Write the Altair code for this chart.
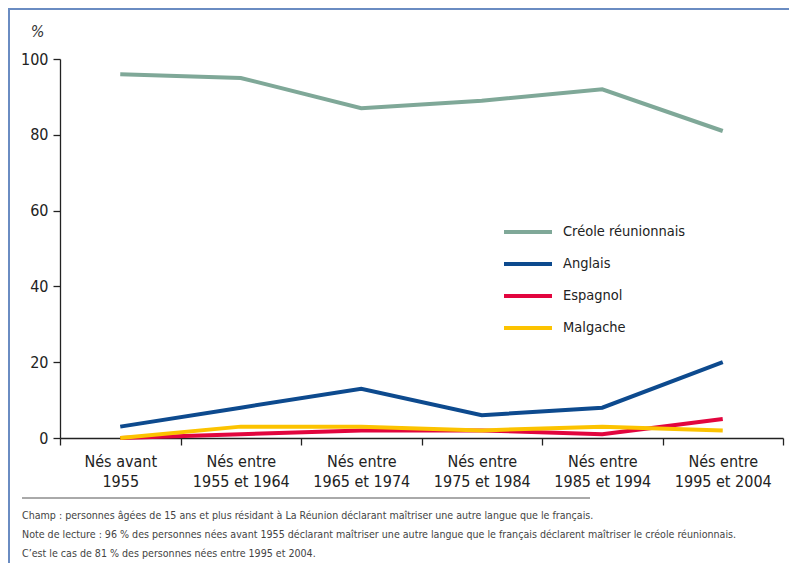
import altair as alt
import pandas as pd

categories = ["Nés avant|1955", "Nés entre|1955 et 1964", "Nés entre|1965 et 1974",
              "Nés entre|1975 et 1984", "Nés entre|1985 et 1994", "Nés entre|1995 et 2004"]
series = ["Créole réunionnais", "Anglais", "Espagnol", "Malgache"]
creole = [96, 95, 87, 89, 92, 81]
anglais = [3, 8, 13, 6, 8, 20]
espagnol = [0, 1, 2, 2, 1, 5]
malgache = [0, 3, 3, 2, 3, 2]
colors = ["#7fa898", "#0d4a8e", "#e2053e", "#fcc300"]
y_ticks = [0, 20, 40, 60, 80, 100]
notes = [
    "Champ : personnes âgées de 15 ans et plus résidant à La Réunion déclarant maîtriser une autre langue que le français.",
    "Note de lecture : 96 % des personnes nées avant 1955 déclarant maîtriser une autre langue que le français déclarent maîtriser le créole réunionnais.",
    "C’est le cas de 81 % des personnes nées entre 1995 et 2004.",
]

FONT = "DejaVu Sans Condensed, Liberation Sans Narrow, sans-serif"

rows = []
for name, vals in zip(series, [creole, anglais, espagnol, malgache]):
    for c, v in zip(categories, vals):
        rows.append({"cat": c, "serie": name, "val": v})
df = pd.DataFrame(rows)

lines = alt.Chart(df).mark_line(strokeWidth=4, strokeJoin="miter").encode(
    x=alt.X("cat:N", sort=categories,
            scale=alt.Scale(type="band", paddingInner=0, paddingOuter=0),
            bandPosition=0.5,
            axis=alt.Axis(title=None, labelExpr="split(datum.label, '|')", labelAngle=0,
                          tickBand="extent", domainColor="#222", tickColor="#222",
                          domainWidth=1.3, tickWidth=1.3, tickSize=7,
                          labelFont=FONT, labelFontSize=16, labelColor="#222",
                          labelPadding=8, labelLineHeight=20, grid=False)),
    y=alt.Y("val:Q", scale=alt.Scale(domain=[0, 100], nice=False),
            axis=alt.Axis(values=y_ticks, title="%", titleAngle=0, titleX=-23, titleY=-20,
                          titleFont=FONT, titleFontSize=16, titleFontStyle="italic",
                          titleFontWeight="normal", titleColor="#333", titleAlign="center",
                          domainColor="#222", tickColor="#222", domainWidth=1.3, tickWidth=1.3,
                          tickSize=7, labelFont=FONT, labelFontSize=16, labelColor="#222",
                          labelPadding=5, grid=False)),
    color=alt.Color("serie:N", sort=series,
                    scale=alt.Scale(domain=series, range=colors),
                    legend=alt.Legend(title=None, orient="none", legendX=454, legendY=159,
                                      symbolType="M-2,0H2", symbolSize=576, symbolStrokeWidth=4,
                                      labelFont=FONT, labelFontSize=14.5, labelColor="#222",
                                      labelOffset=21, rowPadding=10, padding=0)),
    order=alt.Order("serie_order:Q"),
).transform_calculate(
    serie_order="indexof(" + str(series) + ", datum.serie)"
)

one = pd.DataFrame({"k": [0]})

footnote = alt.Chart(one).mark_text(
    text=notes, align="left", baseline="alphabetic", lineHeight=19,
    font=FONT, fontSize=10.6, color="#444"
).encode(x=alt.value(-38), y=alt.value(460))

sep = alt.Chart(one).mark_rule(color="#555", strokeWidth=1).encode(
    x=alt.value(-38), x2=alt.value(530), y=alt.value(439))

frame_top = alt.Chart(one).mark_rule(color="#6a8cc2", strokeWidth=2).encode(
    x=alt.value(-52), x2=alt.value(740), y=alt.value(-50))
frame_left = alt.Chart(one).mark_rule(color="#6a8cc2", strokeWidth=2).encode(
    x=alt.value(-51), y=alt.value(-50), y2=alt.value(520))

chart = alt.layer(frame_top, frame_left, sep, footnote, lines).properties(
    width=723, height=379,
    autosize=alt.AutoSizeParams(type="none"),
    padding={"left": 52, "top": 51, "right": 6, "bottom": 125},
).configure_view(stroke=None)

chart.save("out.html", embed_options={"renderer": "svg", "actions": False})
